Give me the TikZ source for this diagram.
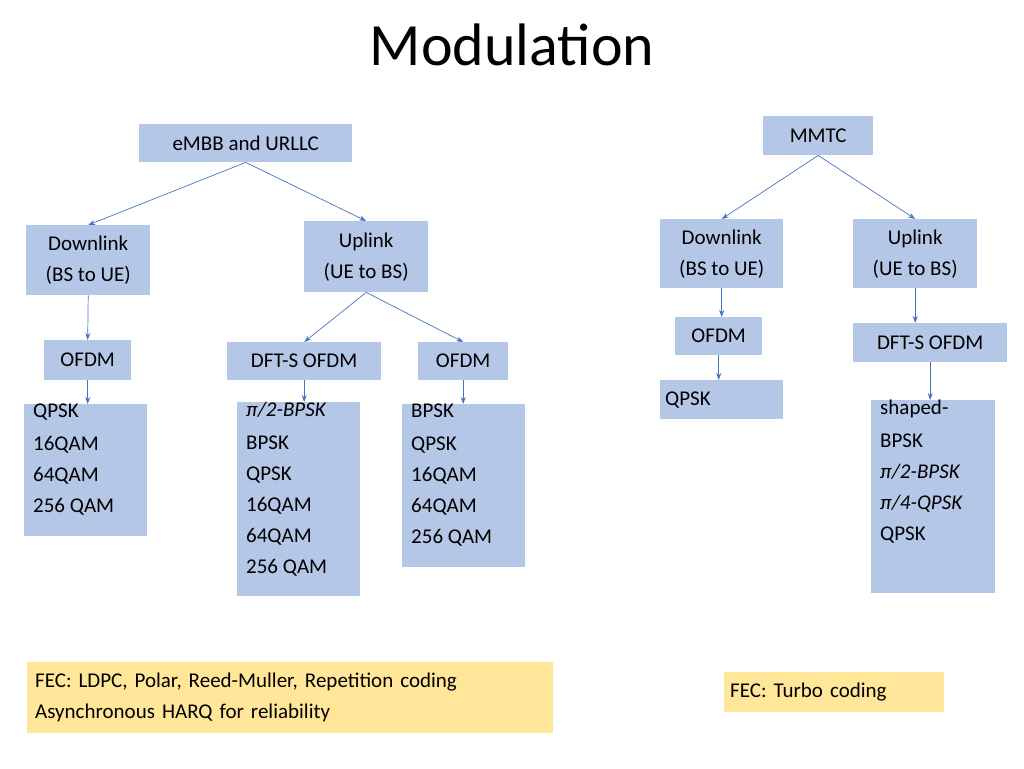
\documentclass[tikz,border=0pt]{standalone}
\usepackage{fontspec}
\setmainfont{Carlito}
\usetikzlibrary{positioning,arrows.meta}
\definecolor{boxblue}{HTML}{B4C7E7}
\definecolor{boxyellow}{HTML}{FFE699}
\definecolor{arrowblue}{HTML}{4472C4}

\begin{document}
\begin{tikzpicture}[
    x=1pt, y=-1pt,
    box/.style = {
        rectangle,
        fill=boxblue,
        draw=none,
        anchor=north west,
        align=center,
        inner sep=0pt,
        font=\fontsize{21}{31}\selectfont
    },
    note/.style = {box, fill=boxyellow, align=left},
    arrow/.style = {-{Stealth[length=7pt,width=5pt]}, line width=0.7pt, draw=arrowblue}
]

\useasboundingbox (0,0) rectangle (1024,768);

% Title
\node[font=\fontsize{60}{70}\selectfont] (title) at (512,45) {Modulation};

% eMBB and URLLC branch
\node[box, minimum width=213, minimum height=38] (embb) at (139,124) {eMBB and URLLC};
\node[box, minimum width=124, minimum height=70] (dlL) at (26,225) {Downlink\\(BS to UE)};
\node[box, minimum width=124, minimum height=71] (ulL) at (304,221) {Uplink\\(UE to BS)};
\node[box, minimum width=87, minimum height=40] (ofdmL) at (44,340) {OFDM};
\node[box, minimum width=154, minimum height=38] (dftL) at (227,342) {DFT-S OFDM};
\node[box, minimum width=90, minimum height=38] (ofdmM) at (418,342) {OFDM};
\node[box, align=left] (listL) at (24,404) {\parbox[t][132pt][t]{123pt}{\hspace*{9pt}\vspace*{2pt}QPSK\\\hspace*{9pt}16QAM\\\hspace*{9pt}64QAM\\\hspace*{9pt}256 QAM}};
\node[box, align=left] (listD) at (237,402) {\parbox[t][194pt][t]{123pt}{\hspace*{9pt}\vspace*{2pt}\textit{π/2-BPSK}\\\hspace*{9pt}BPSK\\\hspace*{9pt}QPSK\\\hspace*{9pt}16QAM\\\hspace*{9pt}64QAM\\\hspace*{9pt}256 QAM}};
\node[box, align=left] (listM) at (402,404) {\parbox[t][163pt][t]{123pt}{\hspace*{9pt}\vspace*{2pt}BPSK\\\hspace*{9pt}QPSK\\\hspace*{9pt}16QAM\\\hspace*{9pt}64QAM\\\hspace*{9pt}256 QAM}};

% MMTC branch
\node[box, minimum width=110, minimum height=39] (mmtc) at (763,116) {MMTC};
\node[box, minimum width=123, minimum height=69] (dlR) at (660,219) {Downlink\\(BS to UE)};
\node[box, minimum width=124, minimum height=69] (ulR) at (853,219) {Uplink\\(UE to BS)};
\node[box, minimum width=87, minimum height=38] (ofdmR) at (675,317) {OFDM};
\node[box, minimum width=123, minimum height=39, align=left, text width=113pt] (qpskR) at (660,380) {QPSK};
\node[box, minimum width=154, minimum height=39] (dftR) at (853,323) {DFT-S OFDM};
\node[box, align=left] (listR) at (871,400) {\parbox[t][193pt][t]{124pt}{\hspace*{9pt}\vspace*{2pt}shaped-\\\hspace*{9pt}BPSK\\\hspace*{9pt}\textit{π/2-BPSK}\\\hspace*{9pt}\textit{π/4-QPSK}\\\hspace*{9pt}QPSK}};

% FEC notes
\node[note, minimum width=526, minimum height=71, text width=510pt] (fecL) at (27,662) {FEC: LDPC, Polar, Reed-Muller, Repetition coding\\Asynchronous HARQ for reliability};
\node[note, minimum width=220, minimum height=40, text width=208pt] (fecR) at (724,672) {FEC: Turbo coding};

% Arrows - eMBB side
\draw[arrow] (embb.south) -- (dlL.north);
\draw[arrow] (embb.south) -- (ulL.north);
\draw[arrow] (dlL.south) -- (ofdmL.north);
\draw[arrow] (ulL.south) -- (dftL.north);
\draw[arrow] (ulL.south) -- (ofdmM.north);
\draw[arrow] (ofdmL.south) -- (ofdmL.south |- listL.north);
\draw[arrow] (dftL.south) -- (dftL.south |- listD.north);
\draw[arrow] (ofdmM.south) -- (ofdmM.south |- listM.north);

% Arrows - MMTC side
\draw[arrow] (mmtc.south) -- (dlR.north);
\draw[arrow] (mmtc.south) -- (ulR.north);
\draw[arrow] (dlR.south) -- (dlR.south |- ofdmR.north);
\draw[arrow] (ofdmR.south) -- (ofdmR.south |- qpskR.north);
\draw[arrow] (ulR.south) -- (ulR.south |- dftR.north);
\draw[arrow] (dftR.south) -- (dftR.south |- listR.north);

\end{tikzpicture}
\end{document}
